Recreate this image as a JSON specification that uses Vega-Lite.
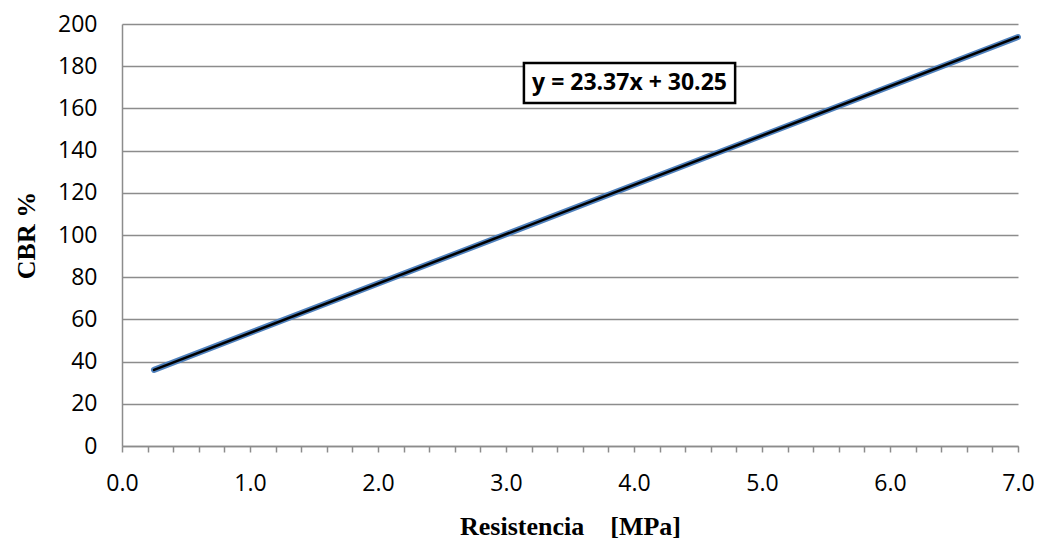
{
  "$schema": "https://vega.github.io/schema/vega-lite/v6.json",
  "width": 896,
  "height": 422,
  "autosize": "none",
  "padding": {"left": 122, "top": 24, "right": 21, "bottom": 99},
  "background": "white",
  "config": {
    "view": {"stroke": null},
    "axis": {"domainColor": "#8c8c8c", "domainWidth": 1.5, "gridColor": "#8c8c8c", "gridWidth": 1.5, "tickColor": "#8c8c8c", "tickWidth": 1.5, "labelOverlap": false}
  },
  "datasets": {
    "series": [
      {"x": 0.25, "y": 36.09},
      {"x": 7.0, "y": 193.84}
    ],
    "label": [
      {"x": 3.965, "y": 172, "x1": 3.14, "x2": 4.79, "y1": 162.6, "y2": 181.5, "text": "y = 23.37x + 30.25"}
    ]
  },
  "layer": [
    {
      "data": {"name": "series"},
      "mark": {"type": "line", "color": "#4F81BD", "strokeWidth": 6, "strokeCap": "round"},
      "encoding": {
        "x": {
          "field": "x", "type": "quantitative",
          "scale": {"domain": [0, 7], "nice": false, "zero": false},
          "axis": {
            "title": "Resistencia\u00a0\u00a0\u00a0\u00a0[MPa]",
            "titleFont": "Liberation Serif", "titleFontSize": 26, "titleFontWeight": "bold", "titleColor": "black",
            "titlePadding": 18,
            "values": [0,0.2,0.4,0.6,0.8,1,1.2,1.4,1.6,1.8,2,2.2,2.4,2.6,2.8,3,3.2,3.4,3.6,3.8,4,4.2,4.4,4.6,4.8,5,5.2,5.4,5.6,5.8,6,6.2,6.4,6.6,6.8,7],
            "tickCount": 36,
            "labelExpr": "abs(datum.value - round(datum.value)) < 0.01 ? format(datum.value, '.1f') : ''",
            "labelFont": "Open Sans", "labelFontSize": 23, "labelColor": "black",
            "labelOverlap": false,
            "labelBound": false,
            "labelFlush": false,
            "labelPadding": 20,
            "tickSize": 6,
            "grid": false
          }
        },
        "y": {
          "field": "y", "type": "quantitative",
          "scale": {"domain": [0, 200], "nice": false},
          "axis": {
            "title": "CBR %",
            "titleFont": "Liberation Serif", "titleFontSize": 26, "titleFontWeight": "bold", "titleColor": "black",
            "titlePadding": 18,
            "values": [0,20,40,60,80,100,120,140,160,180,200],
            "labelFont": "Open Sans", "labelFontSize": 23, "labelColor": "black",
            "labelOverlap": false,
            "labelFlush": false,
            "labelPadding": 25,
            "ticks": false,
            "grid": true
          }
        }
      }
    },
    {
      "data": {"name": "series"},
      "mark": {"type": "line", "color": "black", "strokeWidth": 2.5, "strokeCap": "round"},
      "encoding": {
        "x": {"field": "x", "type": "quantitative"},
        "y": {"field": "y", "type": "quantitative"}
      }
    },
    {
      "data": {"name": "label"},
      "mark": {"type": "rect", "fill": "white", "stroke": "black", "strokeWidth": 2.5},
      "encoding": {
        "x": {"field": "x1", "type": "quantitative"},
        "x2": {"field": "x2"},
        "y": {"field": "y1", "type": "quantitative"},
        "y2": {"field": "y2"}
      }
    },
    {
      "data": {"name": "label"},
      "mark": {"type": "text", "font": "Open Sans", "fontSize": 23, "fontWeight": "bold", "color": "black", "align": "center", "baseline": "middle"},
      "encoding": {
        "x": {"field": "x", "type": "quantitative"},
        "y": {"field": "y", "type": "quantitative"},
        "text": {"field": "text"}
      }
    }
  ]
}
